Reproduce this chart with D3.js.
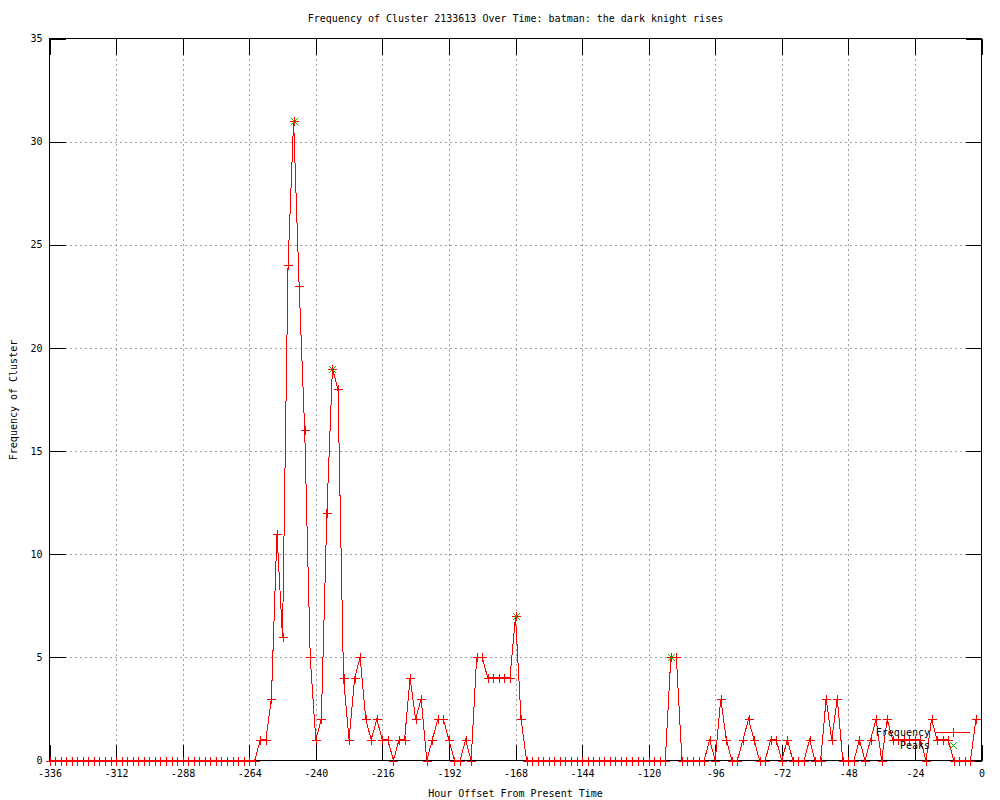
<!DOCTYPE html>
<html>
<head>
<meta charset="utf-8">
<script src="https://cdn.jsdelivr.net/npm/d3@7"></script>
<style>
html, body { margin: 0; padding: 0; background: #fff; }
svg { display: block; }
text { font-family: "DejaVu Sans Mono", "Liberation Mono", monospace; font-size: 10px; fill: #000; }
</style>
</head>
<body>
<svg id="chart" width="1000" height="800"></svg>
<script>
// ---- data ----
const titleText = "Frequency of Cluster 2133613 Over Time: batman: the dark knight rises";
const xLabel = "Hour Offset From Present Time";
const yLabel = "Frequency of Cluster";
const seriesNames = ["Frequency", "Peaks"];

const hours = [
  -336,-334,-332,-330,-328,-326,-324,-322,-320,-318,-316,-314,
  -312,-310,-308,-306,-304,-302,-300,-298,-296,-294,-292,-290,
  -288,-286,-284,-282,-280,-278,-276,-274,-272,-270,-268,-266,
  -264,-262,-260,-258,-256,-254,-252,-250,-248,-246,-244,-242,
  -240,-238,-236,-234,-232,-230,-228,-226,-224,-222,-220,-218,
  -216,-214,-212,-210,-208,-206,-204,-202,-200,-198,-196,-194,
  -192,-190,-188,-186,-184,-182,-180,-178,-176,-174,-172,-170,
  -168,-166,-164,-162,-160,-158,-156,-154,-152,-150,-148,-146,
  -144,-142,-140,-138,-136,-134,-132,-130,-128,-126,-124,-122,
  -120,-118,-116,-114,-112,-110,-108,-106,-104,-102,-100,-98,
  -96,-94,-92,-90,-88,-86,-84,-82,-80,-78,-76,-74,
  -72,-70,-68,-66,-64,-62,-60,-58,-56,-54,-52,-50,
  -48,-46,-44,-42,-40,-38,-36,-34,-32,-30,-28,-26,
  -24,-22,-20,-18,-16,-14,-12,-10,-8,-6,-4,-2
];
const frequency = [
  0,0,0,0,0,0,0,0,0,0,0,0,
  0,0,0,0,0,0,0,0,0,0,0,0,
  0,0,0,0,0,0,0,0,0,0,0,0,
  0,0,1,1,3,11,6,24,31,23,16,5,
  1,2,12,19,18,4,1,4,5,2,1,2,
  1,1,0,1,1,4,2,3,0,1,2,2,
  1,0,0,1,0,5,5,4,4,4,4,4,
  7,2,0,0,0,0,0,0,0,0,0,0,
  0,0,0,0,0,0,0,0,0,0,0,0,
  0,0,0,0,5,5,0,0,0,0,0,1,
  0,3,1,0,0,1,2,1,0,0,1,1,
  0,1,0,0,0,1,0,0,3,1,3,0,
  0,0,1,0,1,2,0,2,1,1,1,1,
  1,1,0,2,1,1,1,0,0,0,0,2
];
const peakHours = [-248, -234, -168, -112];
const peakValues = [31, 19, 7, 5];
const xTicks = [-336,-312,-288,-264,-240,-216,-192,-168,-144,-120,-96,-72,-48,-24,0];
const yTicks = [0,5,10,15,20,25,30,35];

// ---- layout ----
const svg = d3.select("#chart");
const L = 49.5, R = 981.5, T = 38.5, B = 760.5;
const x = d3.scaleLinear().domain([-336, 0]).range([L, R]);
const y = d3.scaleLinear().domain([0, 35]).range([B, T]);
const tickLen = 16;

// grid
const grid = svg.append("g");
grid.selectAll("line.gx").data(xTicks.slice(1, -1)).enter().append("line")
  .attr("x1", d => Math.round(x(d)) + 0.5).attr("x2", d => Math.round(x(d)) + 0.5)
  .attr("y1", T).attr("y2", B)
  .attr("stroke", "#a0a0a0").attr("stroke-dasharray", "2,3").attr("shape-rendering", "crispEdges");
grid.selectAll("line.gy").data(yTicks.slice(1, -1)).enter().append("line")
  .attr("y1", d => Math.round(y(d)) + 0.5).attr("y2", d => Math.round(y(d)) + 0.5)
  .attr("x1", L).attr("x2", R)
  .attr("stroke", "#a0a0a0").attr("stroke-dasharray", "2,3").attr("shape-rendering", "crispEdges");

// axes (ticks inward, mirrored)
const xb = svg.append("g").attr("transform", `translate(0,${B})`)
  .call(d3.axisBottom(x).tickValues(xTicks).tickSizeInner(-tickLen).tickSizeOuter(0).tickPadding(8).tickFormat(d => d === 0 ? "0" : "-" + Math.abs(d)));
const xt = svg.append("g").attr("transform", `translate(0,${T})`)
  .call(d3.axisTop(x).tickValues(xTicks).tickSizeInner(-tickLen).tickSizeOuter(0).tickFormat(""));
const yl = svg.append("g").attr("transform", `translate(${L},0)`)
  .call(d3.axisLeft(y).tickValues(yTicks).tickSizeInner(-tickLen).tickSizeOuter(0).tickPadding(8));
const yr = svg.append("g").attr("transform", `translate(${R},0)`)
  .call(d3.axisRight(y).tickValues(yTicks).tickSizeInner(-tickLen).tickSizeOuter(0).tickFormat(""));
[xb, xt, yl, yr].forEach(g => {
  g.select(".domain").remove();
  g.selectAll("line").attr("stroke", "#000").attr("shape-rendering", "crispEdges");
  g.selectAll("text").attr("font-family", null).attr("font-size", null).attr("fill", "#000");
});
xb.selectAll("text").attr("dy", "0.71em").attr("y", 9);
yl.selectAll("text").attr("x", -7);

// border
svg.append("rect").attr("x", L).attr("y", T).attr("width", R - L).attr("height", B - T)
  .attr("fill", "none").attr("stroke", "#000").attr("shape-rendering", "crispEdges");

// series line
const pts = hours.map((h, i) => [h, frequency[i]]);
svg.append("path").datum(pts)
  .attr("fill", "none").attr("stroke", "#ff0000").attr("stroke-width", 1)
  .attr("shape-rendering", "crispEdges")
  .attr("d", d3.line().x(d => x(d[0])).y(d => y(d[1])));

// + markers
const plusSize = 4.5;
svg.append("g").selectAll("path").data(pts).enter().append("path")
  .attr("d", d => {
    const px = Math.round(x(d[0])) + 0.5, py = Math.round(y(d[1])) + 0.5;
    return `M${px - plusSize},${py}H${px + plusSize}M${px},${py - plusSize}V${py + plusSize}`;
  })
  .attr("stroke", "#ff0000").attr("fill", "none").attr("shape-rendering", "crispEdges");

// peaks x markers
const xs = 3.5;
const crossPath = (px, py) => `M${px - xs},${py - xs}L${px + xs},${py + xs}M${px - xs},${py + xs}L${px + xs},${py - xs}`;
svg.append("g").selectAll("path").data(peakHours.map((h, i) => [h, peakValues[i]])).enter().append("path")
  .attr("d", d => crossPath(Math.round(x(d[0])) + 0.5, Math.round(y(d[1])) + 0.5))
  .attr("stroke", "#00c000").attr("fill", "none").attr("shape-rendering", "crispEdges");

// title & labels
svg.append("text").attr("x", (L + R) / 2).attr("y", 22).attr("text-anchor", "middle").text(titleText);
svg.append("text").attr("x", (L + R) / 2).attr("y", 797).attr("text-anchor", "middle").text(xLabel);
svg.append("text").attr("transform", "translate(17,400) rotate(-90)").attr("text-anchor", "middle").text(yLabel);

// legend
const lg = svg.append("g");
lg.append("text").attr("x", 930).attr("y", 736).attr("text-anchor", "end").text(seriesNames[0]);
lg.append("line").attr("x1", 936).attr("x2", 970).attr("y1", 732.5).attr("y2", 732.5)
  .attr("stroke", "#ff0000").attr("shape-rendering", "crispEdges");
lg.append("path").attr("d", `M${953.5 - plusSize},732.5H${953.5 + plusSize}M953.5,${732.5 - plusSize}V${732.5 + plusSize}`)
  .attr("stroke", "#ff0000").attr("shape-rendering", "crispEdges");
lg.append("text").attr("x", 930).attr("y", 749).attr("text-anchor", "end").text(seriesNames[1]);
lg.append("path").attr("d", crossPath(953.5, 745.5)).attr("stroke", "#00c000").attr("fill", "none").attr("shape-rendering", "crispEdges");
</script>
</body>
</html>
